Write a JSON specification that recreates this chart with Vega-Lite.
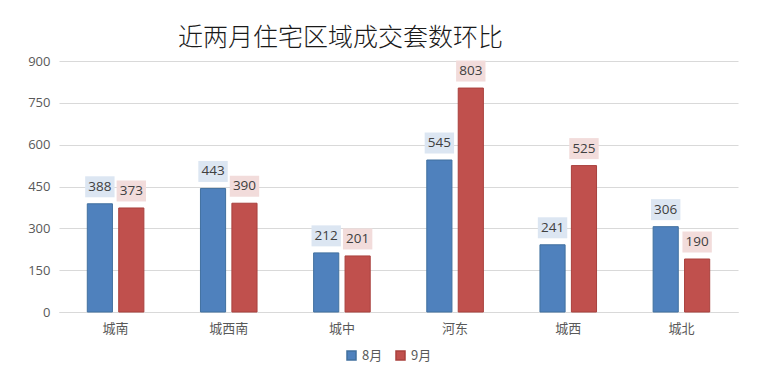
{
  "$schema": "https://vega.github.io/schema/vega-lite/v6.json",
  "width": 679,
  "height": 251,
  "autosize": {"type": "none"},
  "padding": {"left": 59, "top": 61, "right": 32, "bottom": 71},
  "background": "white",
  "config": {"view": {"stroke": null}},
  "title": {
    "text": "近两月住宅区域成交套数环比",
    "anchor": "start",
    "frame": "group",
    "dx": 119,
    "offset": 4,
    "font": "Noto Sans CJK SC",
    "fontSize": 25,
    "fontWeight": 300,
    "color": "#1a1a1a"
  },
  "data": {
    "values": [
      {"region": "城南", "month": "8月", "count": 388},
      {"region": "城南", "month": "9月", "count": 373},
      {"region": "城西南", "month": "8月", "count": 443},
      {"region": "城西南", "month": "9月", "count": 390},
      {"region": "城中", "month": "8月", "count": 212},
      {"region": "城中", "month": "9月", "count": 201},
      {"region": "河东", "month": "8月", "count": 545},
      {"region": "河东", "month": "9月", "count": 803},
      {"region": "城西", "month": "8月", "count": 241},
      {"region": "城西", "month": "9月", "count": 525},
      {"region": "城北", "month": "8月", "count": 306},
      {"region": "城北", "month": "9月", "count": 190}
    ]
  },
  "encoding": {
    "x": {
      "field": "region",
      "type": "nominal",
      "sort": ["城南", "城西南", "城中", "河东", "城西", "城北"],
      "scale": {"paddingInner": 0.5, "paddingOuter": 0.25},
      "axis": {
        "title": null,
        "labelAngle": 0,
        "ticks": false,
        "domainColor": "#d9d9d9",
        "labelFont": "Noto Sans CJK SC",
        "labelFontSize": 13,
        "labelColor": "#595959",
        "labelPadding": 10
      }
    },
    "xOffset": {
      "field": "month",
      "type": "nominal",
      "scale": {"paddingInner": 0.2, "paddingOuter": 0}
    },
    "y": {
      "field": "count",
      "type": "quantitative",
      "scale": {"domain": [0, 900]},
      "axis": {
        "title": null,
        "values": [0, 150, 300, 450, 600, 750, 900],
        "ticks": false,
        "domain": false,
        "gridColor": "#d9d9d9",
        "labelFont": "Open Sans",
        "labelFontSize": 13,
        "labelColor": "#595959",
        "labelPadding": 9
      }
    }
  },
  "layer": [
    {
      "mark": {"type": "bar", "strokeWidth": 1},
      "encoding": {
        "color": {
          "field": "month",
          "type": "nominal",
          "scale": {"domain": ["8月", "9月"], "range": ["#4f81bd", "#c0504d"]},
          "legend": {
            "title": null,
            "orient": "none",
            "legendX": 286,
            "legendY": 288,
            "direction": "horizontal",
            "symbolType": "square",
            "symbolSize": 81,
            "labelFont": "Noto Sans CJK SC",
            "labelFontSize": 13,
            "labelColor": "#595959",
            "columnPadding": 10
          }
        },
        "stroke": {
          "field": "month",
          "type": "nominal",
          "scale": {"domain": ["8月", "9月"], "range": ["#41709f", "#a9403d"]},
          "legend": null
        }
      }
    },
    {
      "mark": {
        "type": "point",
        "shape": "M-1.4,-1H1.4V1H-1.4Z",
        "filled": true,
        "opacity": 1,
        "size": 441,
        "strokeWidth": 0,
        "yOffset": -17
      },
      "encoding": {
        "fill": {
          "field": "month",
          "type": "nominal",
          "scale": {"domain": ["8月", "9月"], "range": ["#dce6f2", "#f2dcdb"]},
          "legend": null
        }
      }
    },
    {
      "mark": {
        "type": "text",
        "font": "Open Sans",
        "fontSize": 13.5,
        "color": "#404040",
        "baseline": "middle",
        "dy": -17
      },
      "encoding": {
        "text": {"field": "count", "type": "quantitative"}
      }
    }
  ]
}
